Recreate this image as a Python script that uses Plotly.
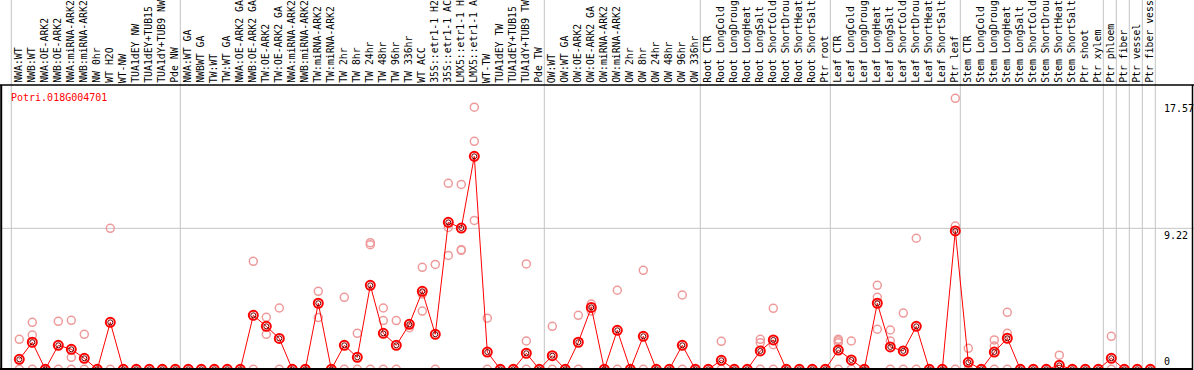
import plotly.graph_objects as go

# ---------------- data ----------------
labels = [
    "NWA:WT", "NWB:WT", "NWA:OE-ARK2", "NWB:OE-ARK2", "NWA:miRNA-ARK2", "NWB:miRNA-ARK2",
    "NW 0hr", "WT H2O", "WT-NW", "TUA1dEY NW", "TUA1dEY+TUB15", "TUA1dY+TUB9 NW", "Pde NW",
    "NWA:WT GA", "NWBWT GA", "TW:WT", "TW:WT GA", "NWA:OE-ARK2 GA", "NWB:OE-ARK2 GA",
    "TW:OE-ARK2", "TW:OE-ARK2 GA", "NWA:miRNA-ARK2", "NWB:miRNA-ARK2", "TW:miRNA-ARK2",
    "TW:miRNA-ARK2", "TW 2hr", "TW 8hr", "TW 24hr", "TW 48hr", "TW 96hr", "TW 336hr",
    "WT ACC", "35S::etr1-1 H2", "35S::etr1-1 AC", "LMX5::etr1-1 H", "LMX5::etr1-1 A",
    "WT-TW", "TUA1dEY TW", "TUA1dEY+TUB15", "TUA1dY+TUB9 TW", "Pde TW",
    "OW:WT", "OW:WT GA", "OW:OE-ARK2", "OW:OE-ARK2 GA", "OW:miRNA-ARK2", "OW:miRNA-ARK2",
    "OW 2hr", "OW 8hr", "OW 24hr", "OW 48hr", "OW 96hr", "OW 336hr",
    "Root CTR", "Root LongCold", "Root LongDroug", "Root LongHeat", "Root LongSalt",
    "Root ShortCold", "Root ShortDrou", "Root ShortHeat", "Root ShortSalt", "Ptr root",
    "Leaf CTR", "Leaf LongCold", "Leaf LongDroug", "Leaf LongHeat", "Leaf LongSalt",
    "Leaf ShortCold", "Leaf ShortDrou", "Leaf ShortHeat", "Leaf ShortSalt", "Ptr leaf",
    "Stem CTR", "Stem LongCold", "Stem LongDroug", "Stem LongHeat", "Stem LongSalt",
    "Stem ShortCold", "Stem ShortDrou", "Stem ShortHeat", "Stem ShortSalt", "Ptr shoot",
    "Ptr xylem", "Ptr phloem", "Ptr fiber", "Ptr vessel", "Ptr fiber vess",
]

group_sizes = [13, 28, 12, 10, 10, 11, 1, 1, 1, 1]

means = [
    0.65, 1.77, 0, 1.57, 1.31, 0.72, 0, 3.07, 0, 0, 0, 0, 0,
    0, 0, 0, 0, 0, 3.53, 2.81, 2.02, 0, 0, 4.32, 0, 1.57, 0.78, 5.49, 2.35, 1.57,
    2.94, 5.10, 2.29, 9.61, 9.24, 13.93, 1.13, 0, 0, 1.05, 0,
    0.89, 0, 1.77, 4.05, 0, 2.55, 0, 2.16, 0, 0, 1.57, 0,
    0, 0.59, 0, 0, 1.20, 1.92, 0, 0, 0, 0,
    1.26, 0.61, 0, 4.32, 1.46, 1.20, 2.81, 0, 0, 9.05,
    0.46, 0, 1.13, 2.03, 0, 0, 0, 0.26, 0, 0, 0,
    0.72, 0, 0, 0,
]

replicates = [
    [1.96, 0], [3.07, 2.24, 0], [0], [3.14, 0], [3.2, 0.78, 0], [2.29, 0], [0], [9.22, 0],
    [0], [0], [0], [0], [0],
    [0], [0], [0], [0], [0], [7.06, 0], [3.40, 2.29], [4.01, 0], [0], [0], [5.10, 3.38],
    [0], [4.71, 0], [2.35, 0], [8.28, 8.15, 0], [4.01, 3.19, 0], [3.19, 0], [2.98, 2.72],
    [6.67, 4.92, 3.81], [6.86, 0], [12.16, 9.28, 7.45], [12.09, 7.82, 7.78],
    [17.14, 14.91, 9.74], [3.34, 0], [0], [0], [6.89, 1.85, 0], [0],
    [2.81, 0], [0], [3.53, 0], [4.27, 3.81], [0], [5.17, 0], [0], [6.47, 0], [0], [0],
    [4.86, 0], [0],
    [0], [1.83, 0], [0], [0], [1.96, 1.74, 0], [3.99, 1.61, 0], [0], [0], [0], [0],
    [1.96, 1.87, 1.74, 0], [1.85, 0], [0], [5.49, 4.71, 2.62], [2.57, 1.85, 0], [3.68, 0],
    [8.57, 0], [0], [0], [17.72, 9.37, 0],
    [1.37, 0], [0], [1.92, 1.52, 0], [3.73, 2.35, 0], [0], [0], [0], [0.92, 0], [0], [0],
    [0], [2.16, 0], [0], [0], [0],
]

gene_name = "Potri.018G004701"
axis_ticks = [0, 9.22, 17.57]
grid_values = [9.22]

# ---------------- figure ----------------
W, H = 1194, 370
col_px = 13.0          # pixel width of a column
first_px = 19.3        # pixel centre of the first column
zero_px = 369.3        # pixel row of value 0
px_per_unit = 15.29
header_px = 85         # bottom of the header band

x_idx = list(range(len(labels)))
xr = [(0 - first_px) / col_px, (W - first_px) / col_px]
yr = [(zero_px - H) / px_per_unit, zero_px / px_per_unit]

def py(p):  # pixel row -> paper
    return (H - p) / H

def px(p):  # pixel column -> paper
    return p / W

fig = go.Figure()

rx, ry = [], []
for i, reps in enumerate(replicates):
    for v in reps:
        rx.append(i)
        ry.append(v)

fig.add_trace(go.Scatter(
    x=rx, y=ry, mode="markers",
    marker=dict(symbol="circle-open", size=8, color="#ee9a9a", line=dict(width=1.5)),
    hoverinfo="skip",
))
fig.add_trace(go.Scatter(
    x=x_idx, y=means, mode="lines+markers",
    line=dict(color="#ff0000", width=1),
    marker=dict(symbol="circle-open", size=9, color="#ff0000", line=dict(width=2)),
))
fig.add_trace(go.Scatter(
    x=x_idx, y=means, mode="markers",
    marker=dict(symbol="circle-open", size=5, color="#6a0000", line=dict(width=1)),
    hoverinfo="skip",
))

shapes = []
gray = "#c4c4c4"
bounds = [0]
for g in group_sizes:
    bounds.append(bounds[-1] + g)
for b in bounds:
    xb = b - 8 / col_px
    shapes.append(dict(type="line", xref="x", yref="paper", x0=xb, x1=xb, y0=0, y1=1,
                       line=dict(color=gray, width=1), layer="below"))
for gv in grid_values:
    shapes.append(dict(type="line", xref="paper", yref="y", x0=px(2), x1=1, y0=gv, y1=gv,
                       line=dict(color=gray, width=1), layer="below"))
black = "#000000"
shapes.append(dict(type="line", xref="paper", yref="paper", x0=0, x1=1,
                   y0=py(header_px), y1=py(header_px), line=dict(color=black, width=1.5)))
shapes.append(dict(type="line", xref="paper", yref="paper", x0=0, x1=px(1193),
                   y0=py(369), y1=py(369), line=dict(color=black, width=2)))
shapes.append(dict(type="line", xref="paper", yref="paper", x0=px(1.2), x1=px(1.2),
                   y0=0, y1=py(header_px), line=dict(color=black, width=2)))
shapes.append(dict(type="line", xref="paper", yref="paper", x0=px(1192.5), x1=px(1192.5),
                   y0=0, y1=py(header_px), line=dict(color=black, width=1.5)))

mono = "DejaVu Sans Mono"
annotations = []
for i, lab in enumerate(labels):
    annotations.append(dict(
        x=i, xref="x", y=py(header_px - 1), yref="paper",
        text=lab, showarrow=False, textangle=-90, borderpad=0,
        xanchor="center", yanchor="bottom", xshift=-1,
        font=dict(family=mono, size=9.8, color="#000000"),
    ))
annotations.append(dict(
    x=px(9), xref="paper", y=py(97.5), yref="paper", text=gene_name, showarrow=False,
    xanchor="left", yanchor="middle", font=dict(family=mono, size=10, color="#ff0000"),
))
for t in axis_ticks:
    annotations.append(dict(
        x=px(1162), xref="paper", y=t, yref="y", text=f"{t:g}", showarrow=False,
        xanchor="left", yanchor="bottom" if t == 0 else "top",
        font=dict(family=mono, size=10, color="#000000"),
    ))

fig.update_layout(
    width=W, height=H, margin=dict(l=0, r=0, t=0, b=0),
    paper_bgcolor="white", plot_bgcolor="white", showlegend=False,
    xaxis=dict(range=xr, visible=False, fixedrange=True),
    yaxis=dict(range=yr, visible=False, fixedrange=True),
    shapes=shapes, annotations=annotations,
)

fig.write_html(
    "out.html",
    config={"displayModeBar": False},
    post_script="document.body.style.margin='0';document.body.style.overflow='hidden';",
)
